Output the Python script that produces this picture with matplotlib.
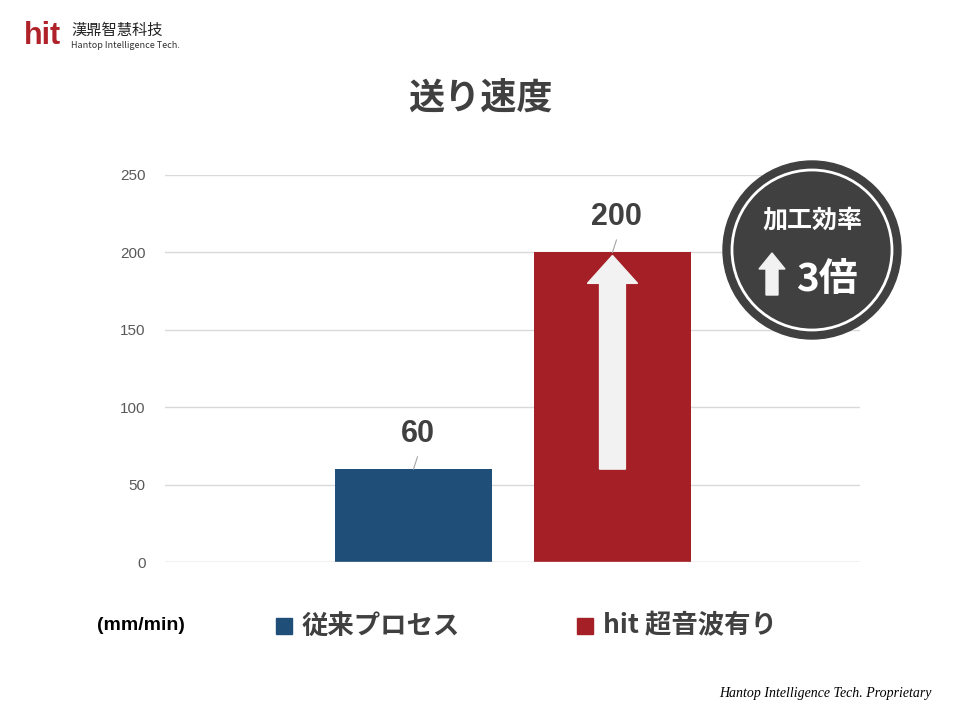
import matplotlib
matplotlib.use("Agg")
import matplotlib.pyplot as plt
from matplotlib.patches import Circle, FancyArrow

plt.rcParams['font.family'] = ['Noto Sans CJK JP', 'DejaVu Sans']

categories = ["従来プロセス", "hit 超音波有り"]
values = [60, 200]
colors = ["#1f4e79", "#a52026"]
yticks = [0, 50, 100, 150, 200, 250]

fig = plt.figure(figsize=(9.6, 7.2), dpi=100)
ax = fig.add_axes([165/960, 158/720, 695/960, 387/720])
x = [0, 1]
ax.bar(x, values, width=0.789, color=colors, zorder=2)
ax.set_xlim(-1.249, 2.244)
ax.set_ylim(0, 250)
ax.set_yticks(yticks)
ax.tick_params(axis='y', length=0, labelsize=11, colors='#595959', pad=14)
for t in ax.get_yticklabels():
    t.set_family(['Liberation Sans', 'DejaVu Sans'])
ax.set_xticks([])
ax.grid(axis='y', color='#d9d9d9', lw=1, zorder=0)
for s in ax.spines.values():
    s.set_visible(False)
ax.axhline(0, color='#d9d9d9', lw=1)

for xi, v in zip(x, values):
    ax.plot([xi, xi + 0.02], [v, v + 8], color='#a6a6a6', lw=0.8, zorder=3)
    ax.text(xi + 0.02, v + 13, str(v), ha='center', va='bottom', fontsize=22,
            fontweight='bold', color='#404040', family=['Liberation Sans', 'DejaVu Sans'])

ax.add_patch(FancyArrow(1, 60, 0, 138, width=0.13, head_width=0.252, head_length=18,
                        length_includes_head=True, color='#f2f2f2', zorder=4))

fig.text(0.5, 1 - 98/720, "送り速度", ha='center', va='center', fontsize=26,
         fontweight='bold', color='#404040')

# legend row
fig.text(97/960, 1 - 626/720, "(mm/min)", ha='left', va='center', fontsize=14,
         fontweight='bold', color='black', family=['Liberation Sans', 'DejaVu Sans'])
for cx, lab, c in [(276, categories[0], colors[0]), (577, categories[1], colors[1])]:
    fig.patches.append(plt.Rectangle((cx/960, 1 - 634/720), 16/960, 16/720,
                                     transform=fig.transFigure, color=c))
    fig.text((cx + 26)/960, 1 - 626/720, lab, ha='left', va='center', fontsize=19,
             fontweight='bold', color='#404040')

# badge
bx = fig.add_axes([0, 0, 1, 1], facecolor='none')
bx.set_xlim(0, 960); bx.set_ylim(720, 0); bx.axis('off')
bx.add_patch(Circle((812, 250), 89, color='#404040'))
bx.add_patch(Circle((812, 250), 80, fill=False, ec='white', lw=2))
bx.text(812, 220, "加工効率", ha='center', va='center', fontsize=18, fontweight='bold', color='white')
bx.text(827, 279, "3倍", ha='center', va='center', fontsize=28, fontweight='bold', color='white')
bx.add_patch(FancyArrow(772, 295, 0, -42, width=12, head_width=26, head_length=16,
                        length_includes_head=True, color='#f2f2f2'))

# logo
bx.text(24, 36, "hit", ha='left', va='center', fontsize=22, fontweight='bold', color='#b0222a',
        family=['Liberation Sans', 'DejaVu Sans'])
bx.text(71, 30, "漢鼎智慧科技", ha='left', va='center', fontsize=11, color='#222222')
bx.text(71, 45, "Hantop Intelligence Tech.", ha='left', va='center', fontsize=6.5, color='#333333')

fig.text(932/960, 1 - 693/720, "Hantop Intelligence Tech. Proprietary", ha='right', va='center',
         fontsize=10, style='italic', color='black', family=['Liberation Serif', 'DejaVu Serif'])

fig.savefig("out.png", dpi=100, facecolor='white')
